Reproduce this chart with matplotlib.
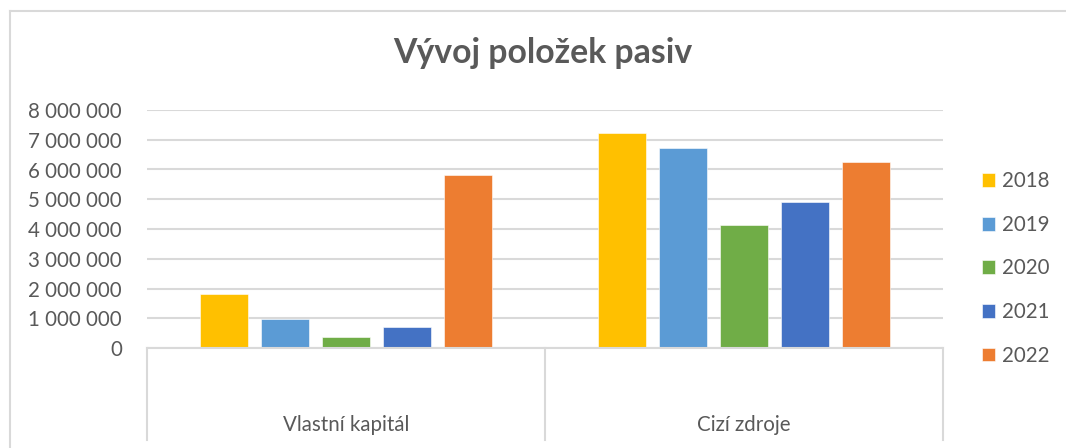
import numpy as np
import matplotlib.pyplot as plt
from matplotlib.lines import Line2D
from matplotlib.ticker import FuncFormatter, MultipleLocator

plt.rcParams['font.family'] = ['Lato', 'DejaVu Sans']

categories = ['Vlastní kapitál', 'Cizí zdroje']
years = ['2018', '2019', '2020', '2021', '2022']
values = {
    '2018': [1820000, 7220000],
    '2019': [975000, 6710000],
    '2020': [380000, 4120000],
    '2021': [695000, 4900000],
    '2022': [5815000, 6250000],
}
colors = ['#FFC000', '#5B9BD5', '#70AD47', '#4472C4', '#ED7D31']

txt = '#595959'
grid = '#D9D9D9'

fig = plt.figure(figsize=(10.66, 4.48), dpi=100)
ax = fig.add_axes([147 / 1066, 1 - 348 / 448, (943 - 147) / 1066, (348 - 110) / 448])

x = np.arange(len(categories))
width = 0.1206
step = 0.1533
for i, (yr, c) in enumerate(zip(years, colors)):
    ax.bar(x + (i - 2) * step, values[yr], width, color=c, label=yr,
           edgecolor='white', linewidth=0.4, zorder=3)

ax.set_xlim(-0.5, 1.5)
ax.set_ylim(0, 8000000)
ax.yaxis.set_major_locator(MultipleLocator(1000000))
ax.yaxis.set_major_formatter(FuncFormatter(lambda v, p: f"{int(v):,}".replace(',', ' ')))
ax.tick_params(axis='y', length=0, pad=18, labelsize=14.8, labelcolor=txt)
ax.set_xticks([])
ax.grid(axis='y', color=grid, linewidth=1.5, zorder=0)
for s in ax.spines.values():
    s.set_visible(False)

# category axis box
tr = ax.get_xaxis_transform()
ax.plot([-0.5, 1.5], [0, 0], color=grid, lw=1.5, transform=tr, clip_on=False, zorder=4)
for xv in [-0.5, 0.5, 1.5]:
    ax.plot([xv, xv], [0, -0.387], color=grid, lw=1.5, transform=tr, clip_on=False)
for xi, cat in zip(x, categories):
    ax.text(xi, -0.3235, cat, transform=tr, ha='center', va='center',
            fontsize=14.8, color=txt)

fig.text(543 / 1066, 1 - 53 / 448, 'Vývoj položek pasiv', ha='center', va='center',
         fontsize=24.3, fontweight='bold', color=txt)

leg = fig.legend(loc='center left', bbox_to_anchor=(982 / 1066, 1 - 268.5 / 448),
                 frameon=False, fontsize=14.8, handlelength=0.65, handleheight=0.65,
                 handletextpad=0.3, labelspacing=1.15, borderpad=0, borderaxespad=0)
for t in leg.get_texts():
    t.set_color(txt)

# chart frame
fig.add_artist(Line2D([10 / 1066, 10 / 1066], [0, 1 - 11 / 448], color=grid, lw=1.5))
fig.add_artist(Line2D([10 / 1066, 1], [1 - 11 / 448, 1 - 11 / 448], color=grid, lw=1.5))

fig.savefig('out.png', dpi=100, facecolor='white')
